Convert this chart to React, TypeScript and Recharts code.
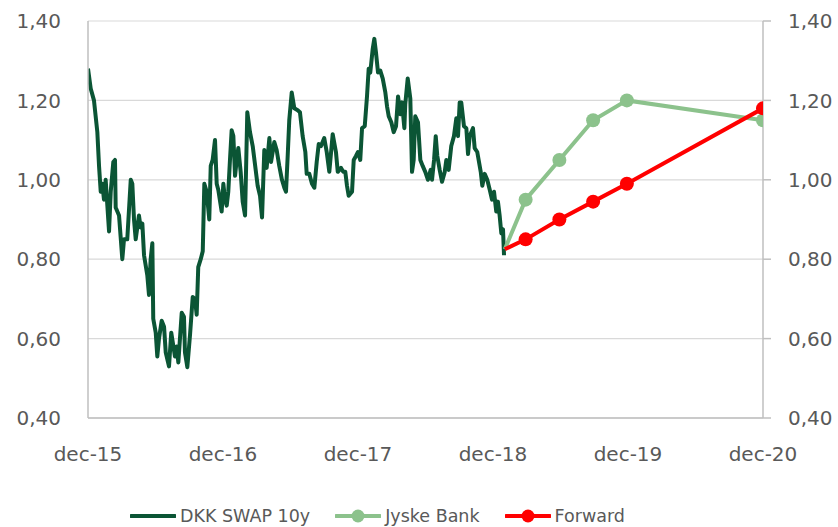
import React from "react";
import { LineChart, Line, XAxis, YAxis, CartesianGrid, Legend } from "recharts";

// months after dec-15, value
const swapPoints: [number, number][] = [
  [0, 1.28], [0.24, 1.23], [0.53, 1.2], [0.83, 1.12], [0.98, 1.035], [1.13, 0.97], [1.27, 0.99],
  [1.42, 0.95], [1.57, 1.0], [1.87, 0.87], [2.02, 0.97], [2.25, 1.045], [2.4, 1.05], [2.46, 0.93],
  [2.76, 0.91], [3.05, 0.8], [3.2, 0.85], [3.49, 0.85], [3.8, 1.0], [3.94, 0.99], [4.09, 0.9],
  [4.24, 0.85], [4.53, 0.91], [4.68, 0.88], [4.83, 0.89], [4.98, 0.81], [5.27, 0.76], [5.42, 0.71],
  [5.57, 0.8], [5.72, 0.84], [5.8, 0.65], [6.02, 0.615], [6.16, 0.555], [6.31, 0.6], [6.55, 0.645],
  [6.76, 0.63], [6.91, 0.565], [7.2, 0.53], [7.4, 0.615], [7.73, 0.555], [7.88, 0.58], [8.03, 0.54],
  [8.33, 0.665], [8.53, 0.655], [8.62, 0.565], [8.83, 0.528], [9.07, 0.61], [9.31, 0.705], [9.51, 0.7],
  [9.66, 0.66], [9.8, 0.78], [10.02, 0.8], [10.2, 0.82], [10.34, 0.99], [10.55, 0.97], [10.78, 0.9],
  [10.91, 1.035], [11.08, 1.05], [11.29, 1.1], [11.44, 0.99], [11.58, 0.975], [11.88, 0.92], [12.03, 0.99],
  [12.18, 0.95], [12.33, 0.935], [12.47, 0.97], [12.62, 1.05], [12.77, 1.125], [12.92, 1.11], [13.07, 1.01],
  [13.22, 1.05], [13.36, 1.08], [13.57, 1.02], [13.75, 0.945], [13.96, 0.91], [14.16, 1.17], [14.4, 1.12],
  [14.64, 1.085], [14.84, 1.04], [15.08, 0.985], [15.29, 0.96], [15.47, 0.905], [15.67, 1.075], [15.88, 1.03],
  [16.12, 1.105], [16.27, 1.045], [16.56, 1.095], [16.77, 1.075], [17.0, 1.035], [17.24, 1.0], [17.45, 0.98],
  [17.6, 0.97], [17.75, 1.06], [17.89, 1.15], [18.11, 1.22], [18.34, 1.18], [18.64, 1.175], [18.84, 1.17],
  [19.08, 1.11], [19.32, 1.07], [19.44, 1.015], [19.67, 1.015], [19.91, 0.99], [20.12, 0.98], [20.33, 1.045],
  [20.51, 1.09], [20.71, 1.085], [21.0, 1.105], [21.22, 1.07], [21.45, 1.02], [21.75, 1.115], [22.04, 1.07],
  [22.2, 1.02], [22.49, 1.03], [22.69, 1.02], [22.87, 1.02], [23.02, 0.985], [23.17, 0.96], [23.47, 0.97],
  [23.62, 1.05], [23.82, 1.06], [24.0, 1.07], [24.2, 1.05], [24.36, 1.13], [24.6, 1.135], [24.8, 1.21],
  [24.95, 1.28], [25.09, 1.27], [25.31, 1.33], [25.45, 1.355], [25.6, 1.32], [25.78, 1.27], [25.98, 1.275],
  [26.2, 1.255], [26.43, 1.22], [26.58, 1.185], [26.73, 1.16], [26.96, 1.145], [27.17, 1.12], [27.38, 1.135],
  [27.56, 1.21], [27.76, 1.165], [27.91, 1.195], [28.12, 1.13], [28.2, 1.19], [28.42, 1.255], [28.65, 1.205],
  [28.8, 1.02], [28.95, 1.05], [29.09, 1.16], [29.33, 1.145], [29.54, 1.05], [29.75, 1.035], [29.98, 1.02],
  [30.22, 1.0], [30.46, 1.025], [30.58, 1.0], [30.76, 1.05], [30.91, 1.11], [31.05, 1.06], [31.26, 1.025],
  [31.47, 0.995], [31.71, 1.02], [31.85, 1.05], [32.06, 1.025], [32.29, 1.085], [32.53, 1.11], [32.74, 1.155],
  [32.89, 1.11], [33.04, 1.195], [33.18, 1.195], [33.42, 1.135], [33.63, 1.13], [33.78, 1.065], [33.93, 1.11],
  [34.22, 1.13], [34.37, 1.08], [34.6, 1.07], [34.91, 1.02], [35.05, 0.985], [35.26, 1.015], [35.49, 1.0],
  [35.71, 0.975], [35.91, 0.95], [36.09, 0.97], [36.29, 0.92], [36.44, 0.945], [36.59, 0.91], [36.74, 0.865],
  [36.89, 0.875], [36.98, 0.81],
];

// forecast dates (months after dec-15); first entry is the spot starting point
const forecastMonths = [37.05, 38.9, 41.9, 44.9, 47.9, 60];
const jyskeValues = [0.825, 0.95, 1.05, 1.15, 1.2, 1.15];
const forwardValues = [0.825, 0.85, 0.9, 0.945, 0.99, 1.18];

const xTicks = [0, 12, 24, 36, 48, 60];
const xLabels = ["dec-15", "dec-16", "dec-17", "dec-18", "dec-19", "dec-20"];
const yTicks = [0.4, 0.6, 0.8, 1.0, 1.2, 1.4];

const swapData = swapPoints.map(([m, v]) => ({ m, v }));
const jyskeData = forecastMonths.map((m, i) => ({ m, v: jyskeValues[i] }));
const forwardData = forecastMonths.map((m, i) => ({ m, v: forwardValues[i] }));

const FONT = "'DejaVu Sans', Verdana, sans-serif";
const TEXT = "#595959";
const AXIS = "#BFBFBF";
const DARK = "#0B5535";
const LIGHT = "#8CC28C";
const RED = "#FF0000";

const fmtY = (v: number) => v.toFixed(2).replace(".", ",");
const fmtX = (v: number) => xLabels[xTicks.indexOf(v)] ?? "";

const legendItems = [
  { name: "DKK SWAP 10y", color: DARK, dot: false },
  { name: "Jyske Bank", color: LIGHT, dot: true },
  { name: "Forward", color: RED, dot: true },
];

function ChartLegend() {
  return (
    <div
      style={{
        display: "flex",
        alignItems: "center",
        height: 22,
        paddingLeft: 130,
        fontFamily: FONT,
        fontSize: 17.5,
        color: TEXT,
      }}
    >
      {legendItems.map((it) => (
        <div key={it.name} style={{ display: "flex", alignItems: "center", marginRight: 25 }}>
          <svg width={46} height={16} style={{ marginRight: 4 }}>
            <line x1={1} y1={8} x2={45} y2={8} stroke={it.color} strokeWidth={4} strokeLinecap="round" />
            {it.dot && <circle cx={23} cy={8} r={6.5} fill={it.color} />}
          </svg>
          <span style={{ whiteSpace: "nowrap" }}>{it.name}</span>
        </div>
      ))}
    </div>
  );
}

// no marker on the starting point of a forecast line
const makeDot = (color: string) => (props: any) => {
  const { cx, cy, index } = props;
  if (index === 0) return <g key={`d-${index}`} />;
  return <circle key={`d-${index}`} cx={cx} cy={cy} r={7} fill={color} />;
};

export default function App() {
  const tickStyle = { fontFamily: FONT, fontSize: 20, fill: TEXT };
  return (
    <div style={{ position: "absolute", left: 0, top: 0, background: "#fff" }}>
      <LineChart width={838} height={527} margin={{ top: 21, right: 0, bottom: 0, left: 0 }}>
        <CartesianGrid yAxisId="left" vertical={false} stroke="#D9D9D9" strokeWidth={1.2} />
        <XAxis
          type="number"
          dataKey="m"
          domain={[0, 60]}
          ticks={xTicks}
          tickFormatter={fmtX}
          allowDataOverflow
          height={87}
          axisLine={{ stroke: AXIS, strokeWidth: 1.5 }}
          tickLine={false}
          tickSize={0}
          tickMargin={29}
          tick={tickStyle}
          interval={0}
        />
        <YAxis
          yAxisId="left"
          domain={[0.4, 1.4]}
          ticks={yTicks}
          tickFormatter={fmtY}
          width={88}
          axisLine={{ stroke: AXIS, strokeWidth: 1.5 }}
          tickLine={false}
          tickSize={0}
          tickMargin={27}
          tick={tickStyle}
          interval={0}
        />
        <YAxis
          yAxisId="right"
          orientation="right"
          domain={[0.4, 1.4]}
          ticks={yTicks}
          tickFormatter={fmtY}
          width={75}
          axisLine={{ stroke: AXIS, strokeWidth: 1.5 }}
          tickLine={{ stroke: AXIS, strokeWidth: 1.5 }}
          tickSize={8}
          tickMargin={17}
          tick={tickStyle}
          interval={0}
        />
        <Legend verticalAlign="bottom" align="left" content={<ChartLegend />} wrapperStyle={{ left: 0, width: 838 }} />
        <Line
          yAxisId="right"
          data={forwardData}
          dataKey="v"
          stroke="none"
          dot={false}
          activeDot={false}
          legendType="none"
          isAnimationActive={false}
        />
        <Line
          yAxisId="left"
          data={swapData}
          dataKey="v"
          name="DKK SWAP 10y"
          stroke={DARK}
          strokeWidth={4}
          strokeLinejoin="round"
          dot={false}
          isAnimationActive={false}
        />
        <Line
          yAxisId="left"
          data={jyskeData}
          dataKey="v"
          name="Jyske Bank"
          stroke={LIGHT}
          strokeWidth={4}
          dot={makeDot(LIGHT)}
          isAnimationActive={false}
        />
        <Line
          yAxisId="left"
          data={forwardData}
          dataKey="v"
          name="Forward"
          stroke={RED}
          strokeWidth={4}
          dot={makeDot(RED)}
          isAnimationActive={false}
        />
      </LineChart>
    </div>
  );
}
